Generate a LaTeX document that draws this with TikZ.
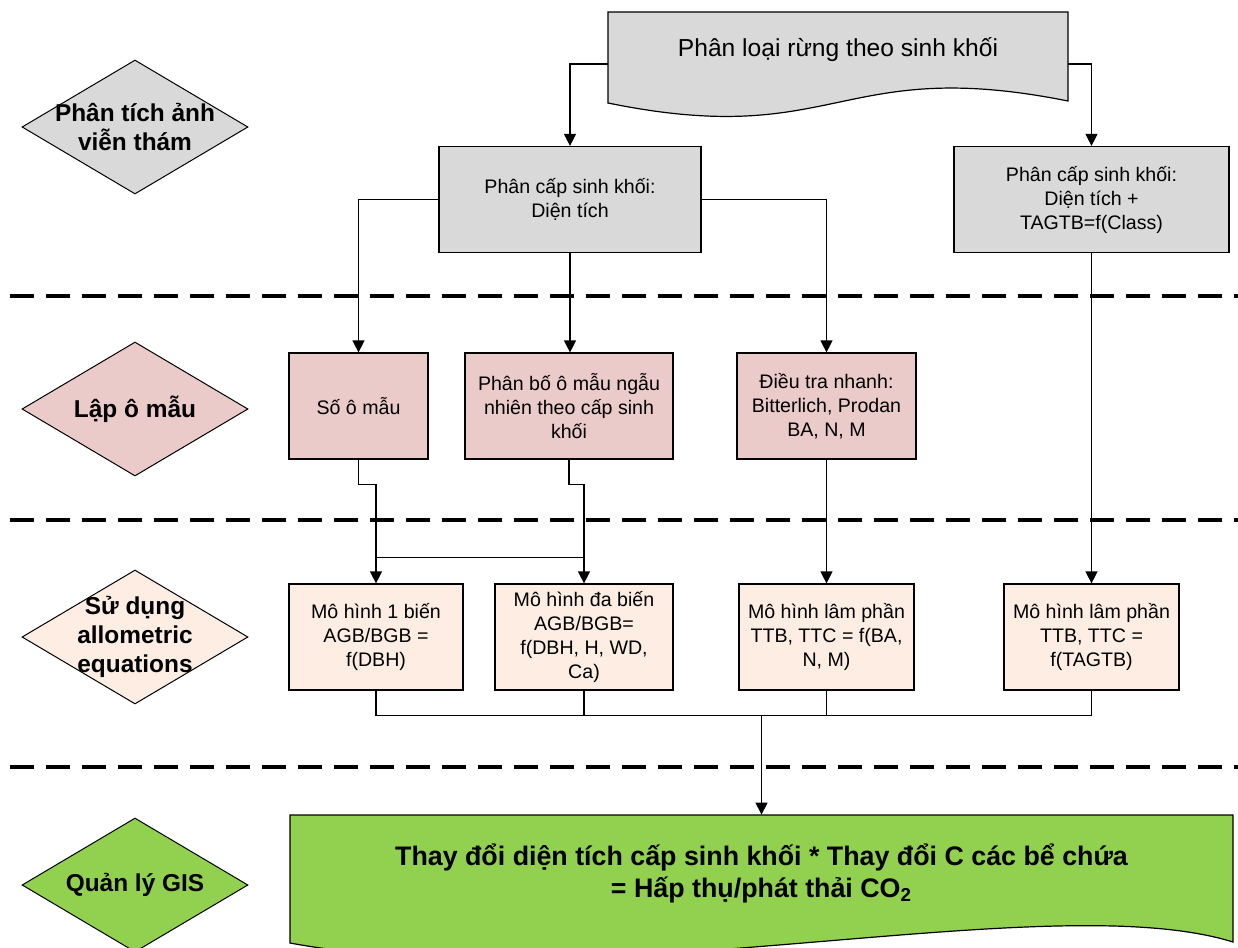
\documentclass[tikz,border=0pt]{standalone}
\usepackage{fontspec}
\setmainfont{Liberation Sans}
\usetikzlibrary{shapes.geometric,arrows.meta}

\definecolor{stepgray}{HTML}{D9D9D9}
\definecolor{plotpink}{HTML}{EACBCA}
\definecolor{modelpeach}{HTML}{FDEDE3}
\definecolor{gisgreen}{HTML}{92D050}

\tikzset{
  box/.style={draw, rectangle, align=center, inner sep=2pt, line width=0.6pt,
    minimum height=53pt, font=\fontsize{9.8}{12}\selectfont},
  lane/.style={draw, diamond, minimum width=113pt, minimum height=67pt,
    inner sep=0pt, line width=0.5pt},
  lanetext/.style={font=\bfseries\fontsize{12.2}{14.5}\selectfont, align=center},
  link/.style={line width=0.6pt},
  flow/.style={link, -{Triangle[length=6pt,width=6pt]}},
  sep/.style={line width=1.6pt, dash pattern=on 12pt off 6pt},
}

\begin{document}
\begin{tikzpicture}[x=0.5pt, y=-0.5pt]
\useasboundingbox (0,0) rectangle (1238,948);
\clip (0,0) rectangle (1238,948);

% separators
\foreach \y in {296,520,767}
  \draw[sep] (10,\y) -- (1238,\y);

% stage diamonds on the left
\node[lane, fill=stepgray, label={[lanetext]center:Phân tích ảnh\\viễn thám}] (remote) at (135,127) {};
\node[lane, fill=plotpink, label={[lanetext]center:Lập ô mẫu}] (plots) at (135,409) {};
\node[lane, fill=modelpeach, label={[lanetext]center:Sử dụng\\allometric\\equations}] (allom) at (135,637) {};
\node[lane, fill=gisgreen, label={[lanetext]center:Quản lý GIS}] (gis) at (135,885) {};

% title document
\filldraw[fill=stepgray, link] (608,12) -- (1068,12) -- (1068,101)
  .. controls (838,55) and (838,150) .. (608,103) -- cycle;
\node[minimum width=230pt, minimum height=52pt, inner sep=0pt,
  label={[font=\fontsize{12.3}{14}\selectfont, yshift=7pt]center:Phân loại rừng theo sinh khối}] (title) at (838,64) {};

% biomass classes
\node[box, fill=stepgray, minimum width=131pt] (tier) at (570,199.5) {Phân cấp sinh khối:\\Diện tích};
\node[box, fill=stepgray, minimum width=137.5pt] (tierplus) at (1091.5,199.5) {Phân cấp sinh khối:\\Diện tích +\\TAGTB=f(Class)};

% sample plots
\node[box, fill=plotpink, minimum width=69.5pt] (plotnum) at (358.5,406) {Số ô mẫu};
\node[box, fill=plotpink, minimum width=104pt] (plotdist) at (569,406) {Phân bố ô mẫu ngẫu\\nhiên theo cấp sinh\\khối};
\node[box, fill=plotpink, minimum width=89.5pt] (rapid) at (826.5,406) {Điều tra nhanh:\\Bitterlich, Prodan\\BA, N, M};

% models
\node[box, fill=modelpeach, minimum width=87pt] (single) at (376,637) {Mô hình 1 biến\\AGB/BGB =\\f(DBH)};
\node[box, fill=modelpeach, minimum width=89pt] (multi) at (584,637) {Mô hình đa biến\\AGB/BGB=\\f(DBH, H, WD,\\Ca)};
\node[box, fill=modelpeach, minimum width=87.5pt] (stand) at (826.5,637) {Mô hình lâm phần\\TTB, TTC = f(BA,\\N, M)};
\node[box, fill=modelpeach, minimum width=87.5pt] (standtag) at (1091.5,637) {Mô hình lâm phần\\TTB, TTC =\\f(TAGTB)};

% result document
\filldraw[fill=gisgreen, link] (290,815) -- (1233,815) -- (1233,942)
  .. controls (1050,885) and (600,1000) .. (290,943) -- cycle;
\node[minimum width=471.5pt, minimum height=64pt, inner sep=0pt,
  label={[font=\bfseries\fontsize{13.4}{16}\selectfont, align=center, yshift=3pt]center:Thay đổi diện tích cấp sinh khối * Thay đổi C các bể chứa\\= Hấp thụ/phát thải CO\textsubscript{2}}] (result) at (761.5,879) {};

% connectors
\draw[flow] (title.west) -| (tier.north);
\draw[flow] (title.east) -| (tierplus.north);
\draw[flow] (tier.west) -| (plotnum.north);
\draw[flow] (tier.east) -| (rapid.north);
\draw[flow] (tier.south) -- (tier.south |- plotdist.north);
\draw[flow] (plotnum.south) -- ++(0,25) -| (single.north);
\draw[flow] (plotdist.south) -- ++(0,25) -| (multi.north);
\path (single.north) ++(0,-26) coordinate (crossl);
\path (multi.north) ++(0,-26) coordinate (crossr);
\draw[link] (crossl) -- (crossr);
\draw[flow] (rapid.south) -- (stand.north);
\draw[flow] (tierplus.south) -- (standtag.north);
\draw[link] (single.south) -- ++(0,25) -| (standtag.south);
\draw[link] (multi.south) -- ++(0,25);
\draw[link] (stand.south) -- ++(0,25);
\path (single.south) ++(0,25) coordinate (bus);
\draw[flow] (bus -| result.north) -- (result.north);
\end{tikzpicture}
\end{document}
